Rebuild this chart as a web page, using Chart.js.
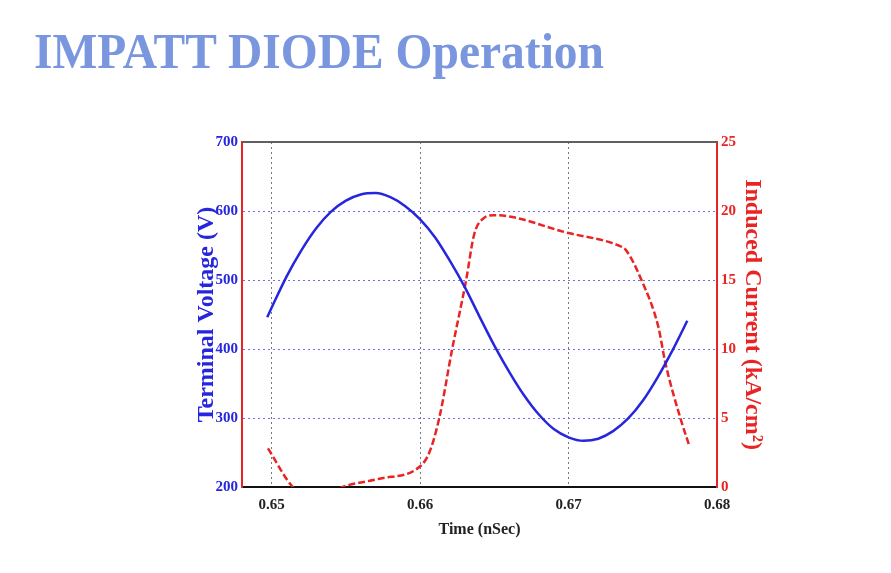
<!DOCTYPE html>
<html>
<head>
<meta charset="utf-8">
<script src="https://cdn.jsdelivr.net/npm/chart.js@4.4.1/dist/chart.umd.min.js"></script>
<style>
  html, body { margin: 0; padding: 0; background: #fff; }
  #wrap { position: relative; width: 891px; height: 573px; }
  #title {
    position: absolute; left: 34px; top: 26px; margin: 0;
    font-family: 'Liberation Serif', 'Times New Roman', serif;
    font-weight: bold; font-size: 47.5px; line-height: 1; color: rgb(122, 150, 222);
    transform: scaleY(1.08); transform-origin: left top; white-space: nowrap;
  }
  canvas { position: absolute; left: 0; top: 0; }
</style>
</head>
<body>
<div id="wrap">
  <div id="title">IMPATT DIODE Operation</div>
  <canvas id="impattChart" width="891" height="573"></canvas>
</div>
<script>
// terminal voltage (V) vs time (nSec)
const voltageTime = [0.6497, 0.650, 0.651, 0.652, 0.653, 0.654, 0.655, 0.656, 0.657, 0.658, 0.659, 0.660, 0.661, 0.662, 0.663, 0.664, 0.665, 0.666, 0.667, 0.668, 0.669, 0.670, 0.671, 0.672, 0.673, 0.674, 0.675, 0.676, 0.677, 0.678];
const voltage = [446, 460, 505, 543, 575, 599, 615, 624, 626, 620, 607, 588, 562, 528, 490, 447, 405, 367, 333, 305, 284, 272, 267, 270, 281, 299, 325, 359, 398, 441];

// induced current (kA/cm^2) vs time (nSec)
const currentTime = [0.64975, 0.65142, 0.653, 0.65478, 0.65726, 0.66, 0.66062, 0.66129, 0.66216, 0.6631, 0.66364, 0.66431, 0.66498, 0.67, 0.67337, 0.67384, 0.67491, 0.67605, 0.67652, 0.67753, 0.67813];
const current = [2.8, 0, -1, 0, 0.6, 1.5, 2.5, 5, 10, 15, 18.3, 19.5, 19.7, 18.4, 17.5, 17.2, 15, 11.6, 9, 5, 3.0];

const timeTicks = [0.65, 0.66, 0.67, 0.68];
const voltageTicks = [200, 300, 400, 500, 600, 700];
const currentTicks = [0, 5, 10, 15, 20, 25];

const serif = "'Liberation Serif', 'Times New Roman', serif";
const blue = 'rgb(38, 38, 222)';
const red = 'rgb(232, 36, 36)';

// top edge of the plot box
const frameTop = {
    id: 'frameTop',
    afterDraw(chart) {
        const { ctx, chartArea } = chart;
        ctx.save();
        ctx.strokeStyle = 'rgb(95, 95, 95)';
        ctx.lineWidth = 2;
        ctx.beginPath();
        ctx.moveTo(chartArea.left, chartArea.top);
        ctx.lineTo(chartArea.right, chartArea.top);
        ctx.stroke();
        ctx.restore();
    }
};

const ctx = document.getElementById('impattChart').getContext('2d');
new Chart(ctx, {
    type: 'line',
    data: {
        datasets: [{
            label: 'Terminal Voltage',
            data: voltageTime.map((t, i) => ({ x: t, y: voltage[i] })),
            borderColor: blue,
            borderWidth: 2.5,
            pointRadius: 0,
            cubicInterpolationMode: 'monotone',
            yAxisID: 'y'
        }, {
            label: 'Induced Current',
            data: currentTime.map((t, i) => ({ x: t, y: current[i] })),
            borderColor: red,
            borderWidth: 2.5,
            borderDash: [7, 3],
            pointRadius: 0,
            cubicInterpolationMode: 'monotone',
            yAxisID: 'y1'
        }]
    },
    options: {
        responsive: false,
        animation: false,
        layout: { padding: { left: 190, right: 122, top: 142, bottom: 0 } },
        plugins: {
            legend: { display: false },
            tooltip: { enabled: false }
        },
        scales: {
            x: {
                type: 'linear',
                min: 0.648,
                max: 0.68,
                afterBuildTicks: (s) => { s.ticks = timeTicks.map(v => ({ value: v })); },
                afterFit: (s) => { s.height = 86; },
                ticks: {
                    padding: 9,
                    color: '#222',
                    font: { family: serif, size: 15, weight: 'bold' },
                    callback: (v) => v.toFixed(2)
                },
                grid: { color: 'rgb(120, 120, 120)', drawTicks: false },
                border: { color: '#111', width: 2, dash: [2, 3] },
                title: {
                    display: true,
                    text: 'Time (nSec)',
                    color: '#222',
                    font: { family: serif, size: 16, weight: 'bold' },
                    padding: { top: 4, bottom: 34 }
                }
            },
            y: {
                position: 'left',
                min: 200,
                max: 700,
                afterBuildTicks: (s) => { s.ticks = voltageTicks.map(v => ({ value: v })); },
                afterFit: (s) => { s.width = 52; },
                ticks: {
                    padding: 4,
                    color: blue,
                    font: { family: serif, size: 15, weight: 'bold' }
                },
                grid: { color: 'rgb(110, 110, 230)', drawTicks: false },
                border: { color: red, width: 2, dash: [2, 3] },
                title: {
                    display: true,
                    text: 'Terminal Voltage (V)',
                    color: blue,
                    font: { family: serif, size: 24, weight: 'bold' },
                    padding: { top: 2, bottom: 0 }
                }
            },
            y1: {
                position: 'right',
                min: 0,
                max: 25,
                afterBuildTicks: (s) => { s.ticks = currentTicks.map(v => ({ value: v })); },
                afterFit: (s) => { s.width = 52; },
                ticks: {
                    padding: 4,
                    color: red,
                    font: { family: serif, size: 15, weight: 'bold' }
                },
                grid: { display: false, drawTicks: false },
                border: { color: red, width: 2 },
                title: {
                    display: true,
                    text: 'Induced Current (kA/cm²)',
                    color: red,
                    font: { family: serif, size: 24, weight: 'bold' },
                    padding: { top: 2, bottom: 0 }
                }
            }
        }
    },
    plugins: [frameTop]
});
</script>
</body>
</html>
